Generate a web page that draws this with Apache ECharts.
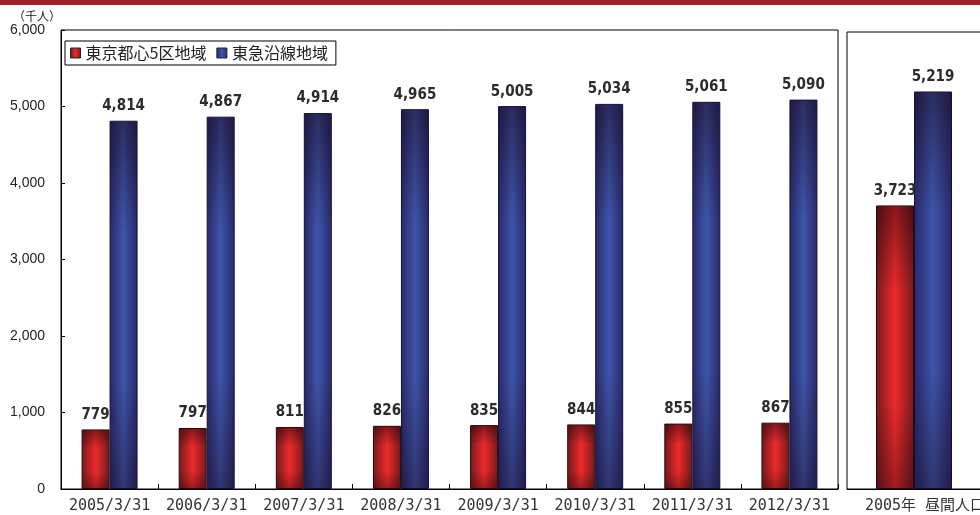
<!DOCTYPE html>
<html>
<head>
<meta charset="utf-8">
<script src="https://cdn.jsdelivr.net/npm/echarts@6/dist/echarts.min.js"></script>
<style>
html,body{margin:0;padding:0;background:#fff;}
#chart{width:980px;height:515px;}
</style>
</head>
<body>
<div id="chart"></div>
<script>
const categories = ['2005/3/31','2006/3/31','2007/3/31','2008/3/31','2009/3/31','2010/3/31','2011/3/31','2012/3/31'];
const tokyoCenter = [779, 797, 811, 826, 835, 844, 855, 867];
const tokyuLine = [4814, 4867, 4914, 4965, 5005, 5034, 5061, 5090];
const dayCategory = ['2005年 昼間人口'];
const dayTokyoCenter = [3723];
const dayTokyuLine = [5219];
const seriesNames = ['東京都心5区地域', '東急沿線地域'];

const fmt = v => Number(v).toLocaleString('en-US');

function hGrad(edge, mid) {
  return new echarts.graphic.LinearGradient(0, 0, 1, 0, [
    {offset: 0, color: edge},
    {offset: 0.5, color: mid},
    {offset: 1, color: edge}
  ]);
}
const redFill = hGrad('#741a1d', '#ee2a2a');
const blueFill = hGrad('#29296a', '#3e55aa');

const labelStyle = {
  show: true,
  position: 'top',
  distance: 7,
  formatter: p => fmt(p.value),
  fontFamily: '"DejaVu Sans Condensed", "DejaVu Sans", sans-serif',
  fontWeight: 'bold',
  fontSize: 15,
  color: '#2b2b2b'
};

// shading overlay drawn over each bar (darker towards top and bottom)
function shadeSeries(values, xi, yi, barW, offsetSign) {
  return {
    type: 'custom', xAxisIndex: xi, yAxisIndex: yi, silent: true, z: 3,
    data: values.map((v, i) => [i, v]),
    renderItem: function (params, api) {
      const idx = api.value(0), val = api.value(1);
      const top = api.coord([idx, val]);
      const base = api.coord([idx, 0]);
      const x = offsetSign < 0 ? top[0] - barW : top[0];
      return {
        type: 'rect',
        shape: {x: x + 1, y: top[1] + 1, width: barW - 2, height: base[1] - top[1] - 1},
        style: {
          fill: new echarts.graphic.LinearGradient(0, 0, 0, 1, [
            {offset: 0, color: 'rgba(20,0,10,0.45)'},
            {offset: 0.3, color: 'rgba(20,0,10,0.0)'},
            {offset: 0.7, color: 'rgba(20,0,10,0.0)'},
            {offset: 1, color: 'rgba(20,0,10,0.35)'}
          ])
        }
      };
    }
  };
}

const chart = echarts.init(document.getElementById('chart'), null, {renderer: 'canvas'});
chart.setOption({
  animation: false,
  backgroundColor: '#fff',
  graphic: [{
    type: 'rect', left: 0, top: 0, shape: {width: 980, height: 5},
    style: {fill: '#a02226'}, silent: true
  }],
  legend: {
    data: seriesNames,
    left: 65, top: 41,
    padding: [4, 8, 4, 5],
    itemGap: 10,
    itemWidth: 10, itemHeight: 10,
    icon: 'rect',
    borderColor: '#000', borderWidth: 1,
    backgroundColor: '#fff',
    textStyle: {fontFamily: '"Noto Sans CJK JP", sans-serif', fontSize: 16, color: '#222'},
    itemStyle: {borderColor: '#222', borderWidth: 1}
  },
  grid: [
    {left: 61, top: 30, right: 142, bottom: 26, outerBoundsMode: 'none', containLabel: false,
     show: true, borderColor: '#000', borderWidth: 1, backgroundColor: 'transparent'},
    {left: 847, top: 32, right: -1, bottom: 26, outerBoundsMode: 'none', containLabel: false,
     show: true, borderColor: '#000', borderWidth: 1, backgroundColor: 'transparent'}
  ],
  xAxis: [
    {
      type: 'category', gridIndex: 0, data: categories,
      axisLine: {lineStyle: {color: '#000', width: 1}},
      axisTick: {show: true, inside: true, length: 5, lineStyle: {color: '#000'}},
      axisLabel: {interval: 0, margin: 10, fontFamily: '"DejaVu Sans Mono", monospace', fontSize: 15, color: '#333'}
    },
    {
      type: 'category', gridIndex: 1, data: dayCategory,
      axisLine: {lineStyle: {color: '#000', width: 1}},
      axisTick: {show: false},
      axisLabel: {interval: 0, margin: 10, padding: [0, 0, 0, 22], fontFamily: '"DejaVu Sans Mono", "Noto Sans CJK JP", monospace', fontSize: 15, color: '#333'}
    }
  ],
  yAxis: [
    {
      type: 'value', gridIndex: 0, min: 0, max: 6000, interval: 1000,
      name: '（千人）', nameLocation: 'end', nameGap: 8,
      nameTextStyle: {align: 'right', fontFamily: '"Noto Sans CJK JP", sans-serif', fontSize: 12, color: '#222'},
      axisLine: {show: true, lineStyle: {color: '#000', width: 1}},
      axisTick: {show: true, inside: true, length: 4, lineStyle: {color: '#000'}},
      splitLine: {show: false},
      axisLabel: {margin: 16, formatter: v => fmt(v), fontFamily: '"Liberation Sans", Arial, sans-serif', fontSize: 14, color: '#222'}
    },
    {
      type: 'value', gridIndex: 1, min: 0, max: 6000, interval: 1000,
      axisLine: {show: false}, axisTick: {show: false}, axisLabel: {show: false}, splitLine: {show: false}
    }
  ],
  series: [
    {name: seriesNames[0], type: 'bar', xAxisIndex: 0, yAxisIndex: 0, data: tokyoCenter, barWidth: 28, barGap: '0%',
     itemStyle: {color: redFill, borderColor: '#2a0a0a', borderWidth: 1}, label: labelStyle},
    {name: seriesNames[1], type: 'bar', xAxisIndex: 0, yAxisIndex: 0, data: tokyuLine, barWidth: 28, barGap: '0%',
     itemStyle: {color: blueFill, borderColor: '#10103a', borderWidth: 1}, label: labelStyle},
    {name: seriesNames[0], type: 'bar', xAxisIndex: 1, yAxisIndex: 1, data: dayTokyoCenter, barWidth: 38, barGap: '0%',
     itemStyle: {color: redFill, borderColor: '#2a0a0a', borderWidth: 1}, label: labelStyle},
    {name: seriesNames[1], type: 'bar', xAxisIndex: 1, yAxisIndex: 1, data: dayTokyuLine, barWidth: 38, barGap: '0%',
     itemStyle: {color: blueFill, borderColor: '#10103a', borderWidth: 1}, label: labelStyle},
    shadeSeries(tokyoCenter, 0, 0, 28, -1),
    shadeSeries(tokyuLine, 0, 0, 28, 1),
    shadeSeries(dayTokyoCenter, 1, 1, 38, -1),
    shadeSeries(dayTokyuLine, 1, 1, 38, 1)
  ]
});
</script>
</body>
</html>
